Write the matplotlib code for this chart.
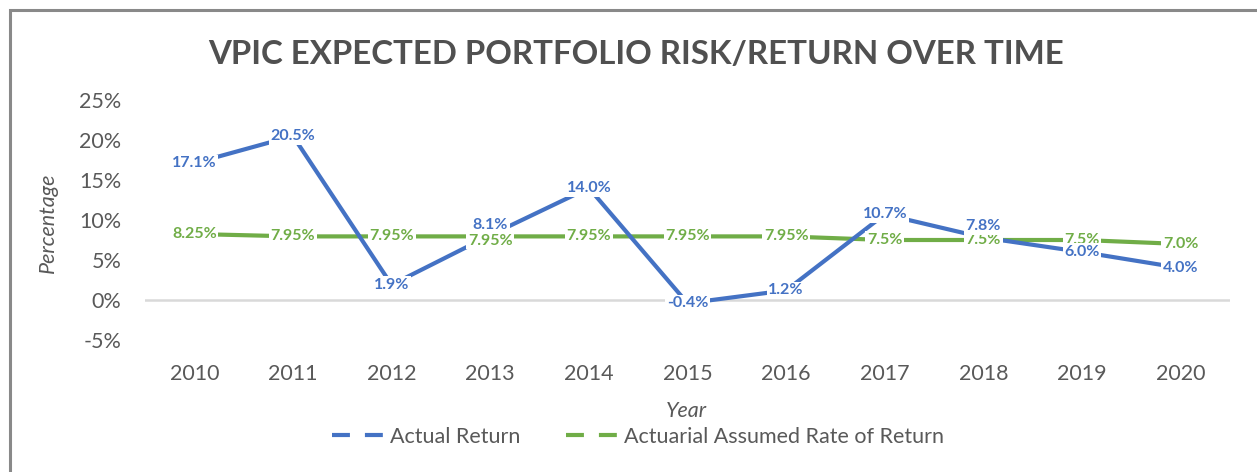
import matplotlib
matplotlib.use("Agg")
import matplotlib.pyplot as plt
from matplotlib.patches import Rectangle
from matplotlib.lines import Line2D

years = ["2010", "2011", "2012", "2013", "2014", "2015", "2016", "2017", "2018", "2019", "2020"]
actual_return = [17.1, 20.5, 1.9, 8.1, 14.0, -0.4, 1.2, 10.7, 7.8, 6.0, 4.0]
assumed_return = [8.25, 7.95, 7.95, 7.95, 7.95, 7.95, 7.95, 7.5, 7.5, 7.5, 7.0]
assumed_labels = ["8.25%", "7.95%", "7.95%", "7.95%", "7.95%", "7.95%", "7.95%",
                  "7.5%", "7.5%", "7.5%", "7.0%"]
yticks = [-5, 0, 5, 10, 15, 20, 25]

BLUE = "#4472C4"
GREEN = "#70AD47"
GRAY = "#595959"
FONT = "Lato"

# label offsets in points (label placement tweaks seen in reference)
actual_offsets = {3: 7, 8: 8}
assumed_offsets = {3: -3}

fig = plt.figure(figsize=(12.57, 4.72), dpi=100)
W, H = 1257, 472
ax = fig.add_axes([145 / W, 1 - 340 / H, (1230 - 145) / W, (340 - 100) / H])

x = list(range(len(years)))
ax.plot(x, actual_return, color=BLUE, lw=3, solid_capstyle="butt", zorder=3)
ax.plot(x, assumed_return, color=GREEN, lw=3, solid_capstyle="butt", zorder=2)
ax.axhline(0, color="#D9D9D9", lw=1.8, zorder=1)

ax.set_xlim(-0.5, len(years) - 0.5)
ax.set_ylim(-5, 25)
ax.set_yticks(yticks)
ax.set_yticklabels([f"{v}%" for v in yticks])
ax.set_xticks(x)
ax.set_xticklabels(years)
ax.tick_params(axis="both", length=0, labelsize=15.5, labelcolor=GRAY)
ax.tick_params(axis="y", pad=17)
ax.tick_params(axis="x", pad=17)
for lab in ax.get_xticklabels() + ax.get_yticklabels():
    lab.set_fontfamily(FONT)
for s in ax.spines.values():
    s.set_visible(False)

bbox = dict(boxstyle="square,pad=0.1", fc="white", ec="none")
for i, v in enumerate(actual_return):
    ax.annotate(f"{v:.1f}%", (i, v), xytext=(0, actual_offsets.get(i, 0)),
                textcoords="offset points", ha="center", va="center",
                color=BLUE, fontsize=11.5, fontweight="bold", fontfamily=FONT,
                bbox=bbox, zorder=6)
for i, v in enumerate(assumed_return):
    ax.annotate(assumed_labels[i], (i, v), xytext=(0, assumed_offsets.get(i, 0)),
                textcoords="offset points", ha="center", va="center",
                color=GREEN, fontsize=11.5, fontweight="bold", fontfamily=FONT,
                bbox=bbox, zorder=5)

fig.text(636 / W, 1 - 54 / H, "VPIC EXPECTED PORTFOLIO RISK/RETURN OVER TIME",
         ha="center", va="center", fontsize=23.8, fontweight="bold", color="#505050",
         fontfamily=FONT)
fig.text(48 / W, 1 - 223 / H, "Percentage", rotation=90, ha="center", va="center",
         fontsize=15.5, fontstyle="italic", color=GRAY, fontfamily=FONT)
fig.text(686 / W, 1 - 411 / H, "Year", ha="center", va="center",
         fontsize=15.5, fontstyle="italic", color=GRAY, fontfamily=FONT)

handles = [Line2D([0], [0], color=BLUE, lw=3, ls=(0, (4.3, 3.6))),
           Line2D([0], [0], color=GREEN, lw=3, ls=(0, (4.3, 3.6)))]
fig.legend(handles, ["Actual Return", "Actuarial Assumed Rate of Return"],
           loc="center", bbox_to_anchor=(638 / W, 1 - 437 / H), ncol=2,
           frameon=False, prop=dict(family=FONT, size=15.5), labelcolor=GRAY,
           handlelength=2.5, handletextpad=0.2, columnspacing=2.1,
           borderpad=0, borderaxespad=0)

fig.patches.append(Rectangle((10 / W, -0.05), 1.1, 1 - 10 / H + 0.05,
                             transform=fig.transFigure, fill=False,
                             ec="#898989", lw=2.2))

fig.savefig("out.png", dpi=100, facecolor="white")
